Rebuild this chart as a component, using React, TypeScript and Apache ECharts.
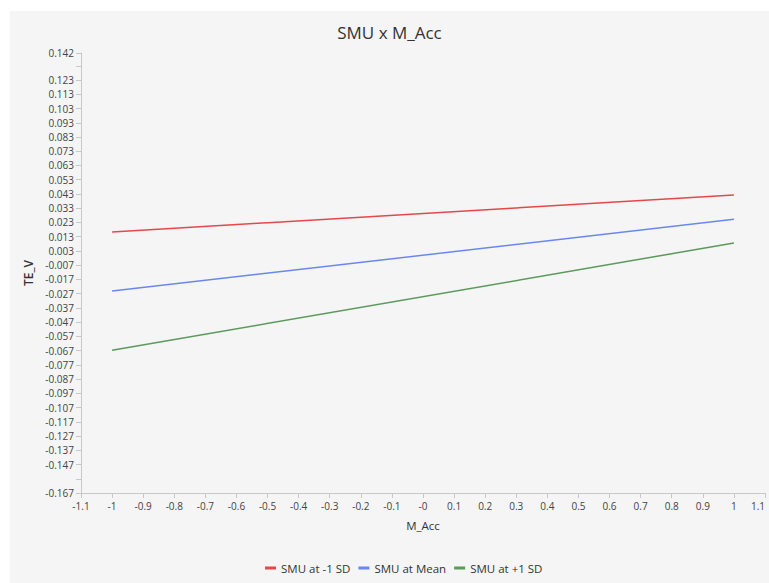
import React, { useEffect, useRef } from "react";
import * as echarts from "echarts";

// Simple slopes of TE_V on M_Acc at three levels of SMU
const xEnds = [-1, 1];
const lowSMU = [0.0163, 0.0423];
const meanSMU = [-0.0252, 0.0252];
const highSMU = [-0.0668, 0.0086];

const seriesNames = ["SMU at -1 SD", "SMU at Mean", "SMU at +1 SD"];
const seriesColors = ["#e5484b", "#6a87f1", "#5b9a5b"];

const xTicks = [
  -1.1, -1, -0.9, -0.8, -0.7, -0.6, -0.5, -0.4, -0.3, -0.2, -0.1, 0, 0.1, 0.2, 0.3,
  0.4, 0.5, 0.6, 0.7, 0.8, 0.9, 1, 1.1,
];
const xTickLabels = [
  "-1.1", "-1", "-0.9", "-0.8", "-0.7", "-0.6", "-0.5", "-0.4", "-0.3", "-0.2", "-0.1",
  "-0", "0.1", "0.2", "0.3", "0.4", "0.5", "0.6", "0.7", "0.8", "0.9", "1", "1.1",
];

const yTicks = [
  -0.167, -0.157, -0.147, -0.137, -0.127, -0.117, -0.107, -0.097, -0.087, -0.077, -0.067,
  -0.057, -0.047, -0.037, -0.027, -0.017, -0.007, 0.003, 0.013, 0.023, 0.033, 0.043,
  0.053, 0.063, 0.073, 0.083, 0.093, 0.103, 0.113, 0.123, 0.133, 0.142,
];
const yHiddenLabels = [-0.157, 0.133];

const FONT = "'Open Sans', 'Noto Sans', sans-serif";

export default function App() {
  const ref = useRef<HTMLDivElement>(null);

  useEffect(() => {
    if (!ref.current) return;
    const chart = echarts.init(ref.current, undefined, { renderer: "svg" });
    const toPairs = (ys: number[]) => xEnds.map((x, i) => [x, ys[i]]);
    const lines = [lowSMU, meanSMU, highSMU];

    chart.setOption({
      animation: false,
      backgroundColor: "#f5f5f5",
      title: {
        text: "SMU x M_Acc",
        left: "center",
        top: 8,
        textStyle: { fontFamily: FONT, fontSize: 17, fontWeight: "normal", color: "#333" },
      },
      legend: {
        bottom: 4,
        left: 250,
        icon: "rect",
        itemWidth: 11,
        itemHeight: 3,
        itemGap: 8,
        data: seriesNames,
        textStyle: { fontFamily: FONT, fontSize: 11.5, color: "#333" },
      },
      grid: { left: 71, right: 4, top: 42, bottom: 90, outerBoundsMode: "none", containLabel: false },
      xAxis: {
        type: "value",
        min: -1.1,
        max: 1.1,
        name: "M_Acc",
        nameLocation: "middle",
        nameGap: 26,
        nameTextStyle: { fontFamily: FONT, fontSize: 11.5, color: "#333" },
        splitLine: { show: false },
        axisLine: { show: true, onZero: false, lineStyle: { color: "#c8c8c8" } },
        axisTick: { show: true, length: 5, customValues: xTicks, lineStyle: { color: "#c8c8c8" } },
        axisLabel: {
          customValues: xTicks,
          alignMaxLabel: "right",
          fontFamily: FONT,
          fontSize: 10,
          color: "#444",
          margin: 8,
          formatter: (v: number) => {
            const i = xTicks.findIndex((t) => Math.abs(t - v) < 1e-9);
            return i >= 0 ? xTickLabels[i] : "";
          },
        },
      },
      yAxis: {
        type: "value",
        min: -0.167,
        max: 0.142,
        name: "TE_V",
        nameLocation: "middle",
        nameGap: 43,
        nameTextStyle: { fontFamily: FONT, fontSize: 12, color: "#333", fontWeight: 600 },
        splitLine: { show: false },
        axisLine: { show: true, onZero: false, lineStyle: { color: "#c8c8c8" } },
        axisTick: { show: true, length: 5, customValues: yTicks, lineStyle: { color: "#c8c8c8" } },
        axisLabel: {
          customValues: yTicks.filter((t) => !yHiddenLabels.includes(t)),
          fontFamily: FONT,
          fontSize: 10,
          color: "#444",
          margin: 7,
          formatter: (v: number) => v.toFixed(3),
        },
      },
      series: lines.map((ys, i) => ({
        name: seriesNames[i],
        type: "line",
        data: toPairs(ys),
        symbol: "none",
        color: seriesColors[i],
        lineStyle: { width: 1.5, color: seriesColors[i] },
      })),
    });

    return () => chart.dispose();
  }, []);

  return (
    <div
      ref={ref}
      style={{ position: "fixed", left: 10, top: 11, width: 759, height: 572 }}
    />
  );
}
